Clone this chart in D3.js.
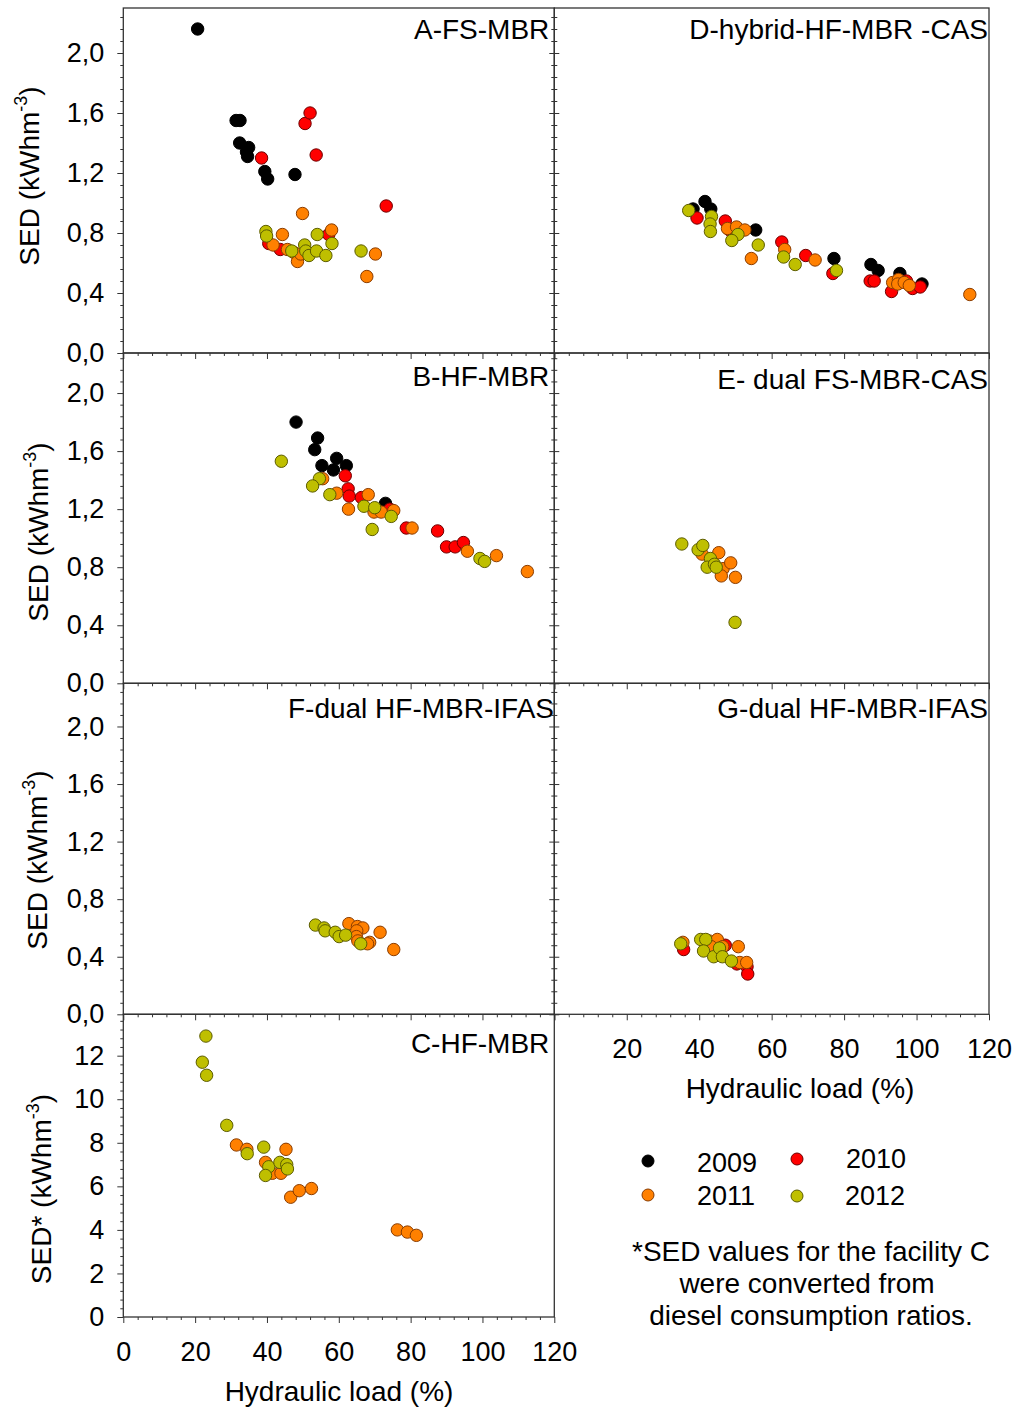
<!DOCTYPE html>
<html><head><meta charset="utf-8">
<script src="https://cdn.jsdelivr.net/npm/d3@7"></script>
<style>
body{margin:0;background:#fff}
svg{display:block}
text{font-family:'Liberation Sans',Arial,sans-serif;fill:#000}
</style>
</head><body>
<svg id="chart" width="1016" height="1409"></svg>
<script>
// ---------------- DATA ----------------
const years = ["2009", "2010", "2011", "2012"];
const xTicks = [0, 20, 40, 60, 80, 100, 120];
const sedTicks = [0, 0.4, 0.8, 1.2, 1.6, 2.0];
const sedStarTicks = [0, 2, 4, 6, 8, 10, 12];

// Panel A-FS-MBR  [hydraulic load %, SED]
const a2009 = [[20.7,2.16],[31.4,1.55],[32.5,1.55],[32.4,1.40],[34.9,1.37],[34.3,1.34],[34.6,1.31],[39.4,1.21],[40.2,1.16],[47.8,1.19]];
const a2010 = [[38.5,1.30],[50.6,1.53],[52.0,1.60],[53.7,1.32],[73.2,0.98],[57.2,0.79],[40.5,0.73],[43.7,0.69]];
const a2011 = [[49.9,0.93],[44.3,0.79],[41.7,0.72],[45.7,0.69],[47.5,0.67],[48.5,0.61],[49.4,0.66],[58.0,0.82],[70.2,0.66],[67.8,0.51]];
const a2012 = [[39.7,0.81],[39.9,0.78],[46.9,0.68],[50.5,0.72],[50.8,0.68],[51.7,0.65],[53.8,0.68],[54.0,0.79],[56.4,0.65],[58.1,0.73],[66.2,0.68]];

// Panel D-hybrid-HF-MBR -CAS
const d2009 = [[38.3,0.96],[41.6,1.01],[43.2,0.96],[55.6,0.82],[77.2,0.63],[87.4,0.59],[89.4,0.55],[95.4,0.53],[101.5,0.46]];
const d2010 = [[39.4,0.90],[47.2,0.88],[48.4,0.82],[62.8,0.74],[69.4,0.65],[76.9,0.53],[87.2,0.48],[88.3,0.48],[93.1,0.41],[97.2,0.48],[98.9,0.43],[101.0,0.44]];
const d2011 = [[47.8,0.83],[50.3,0.84],[52.6,0.82],[54.4,0.63],[63.6,0.69],[72.0,0.62],[93.4,0.47],[95.0,0.49],[94.8,0.46],[96.6,0.47],[98.0,0.45],[114.7,0.39]];
const d2012 = [[37.1,0.95],[43.4,0.91],[43.0,0.86],[43.1,0.81],[50.7,0.79],[49.0,0.75],[56.3,0.72],[63.3,0.64],[66.5,0.59],[77.9,0.55]];

// Panel B-HF-MBR
const b2009 = [[48.1,1.80],[54.1,1.69],[53.3,1.61],[59.4,1.55],[55.3,1.50],[58.5,1.47],[62.1,1.50],[73.0,1.24]];
const b2010 = [[61.8,1.43],[62.6,1.34],[62.9,1.29],[66.3,1.28],[74.2,1.20],[78.8,1.07],[87.5,1.05],[90.0,0.94],[92.4,0.94],[94.7,0.97]];
const b2011 = [[55.5,1.41],[59.4,1.31],[62.7,1.20],[68.2,1.30],[69.8,1.18],[71.8,1.18],[75.3,1.19],[80.4,1.07],[95.8,0.91],[103.9,0.88],[112.5,0.77]];
const b2012 = [[44.0,1.53],[54.6,1.41],[52.7,1.36],[57.5,1.30],[67.0,1.22],[70.0,1.21],[74.6,1.15],[69.3,1.06],[99.3,0.86],[100.6,0.84]];

// Panel E- dual FS-MBR-CAS
const e2011 = [[40.8,0.89],[45.4,0.90],[43.8,0.83],[46.6,0.79],[48.7,0.83],[46.1,0.74],[50.0,0.73]];
const e2012 = [[35.2,0.96],[39.7,0.92],[41.0,0.95],[43.1,0.86],[42.2,0.80],[44.2,0.82],[44.7,0.80],[49.9,0.42]];

// Panel F-dual HF-MBR-IFAS
const f2011 = [[62.8,0.63],[65.2,0.61],[66.7,0.60],[65.0,0.58],[64.9,0.54],[65.3,0.51],[68.6,0.50],[68.0,0.49],[71.5,0.57],[75.3,0.45]];
const f2012 = [[53.5,0.62],[55.9,0.60],[56.2,0.58],[59.0,0.57],[60.1,0.54],[61.9,0.55],[66.1,0.49]];

// Panel G-dual HF-MBR-IFAS
const g2010 = [[35.7,0.45],[47.2,0.48],[50.4,0.35],[53.2,0.33],[53.4,0.28]];
const g2011 = [[35.5,0.50],[42.7,0.51],[45.0,0.52],[43.3,0.47],[46.5,0.47],[50.8,0.47],[51.2,0.36],[53.1,0.36]];
const g2012 = [[34.9,0.49],[40.4,0.52],[41.8,0.52],[41.2,0.44],[44.0,0.40],[45.6,0.46],[46.4,0.40],[48.9,0.37]];

// Panel C-HF-MBR (SED*)
const c2011 = [[31.5,7.9],[34.4,7.7],[45.3,7.7],[39.6,7.1],[41.5,6.6],[43.9,6.6],[46.6,5.5],[49.0,5.8],[52.4,5.9],[76.3,4.0],[79.1,3.9],[81.6,3.75]];
const c2012 = [[23.0,12.9],[22.0,11.7],[23.2,11.1],[28.8,8.8],[34.5,7.5],[39.1,7.8],[40.5,6.9],[39.6,6.5],[43.6,7.1],[45.5,7.0],[45.7,6.8]];

const noteLines = ["*SED values for the facility C", "were converted from", "diesel consumption ratios."];

// ---------------- STYLE / LAYOUT ----------------
const fills = ["#000000", "#ff0000", "#ff8000", "#bfbf00"];
const strokes = ["#000000", "#6e0000", "#8a3c00", "#5c5c00"];
const axisColor = "#333";

const svg = d3.select("#chart");

const xLeft = d3.scaleLinear().domain([0, 120]).range([123.3, 554.3]);
const xRight = d3.scaleLinear().domain([0, 120]).range([554.3, 989]);
const yRowA = d3.scaleLinear().domain([0, 2.3]).range([353, 8]);
const yRowB = d3.scaleLinear().domain([0, 2.276]).range([683.3, 353]);
const yRowF = d3.scaleLinear().domain([0, 2.3]).range([1014.3, 683.3]);
const yRowC = d3.scaleLinear().domain([0, 13.9]).range([1317, 1014.3]);

const panels = [
  {title: "A-FS-MBR", x: xLeft, y: yRowA, side: "L", series: [[a2009,0],[a2010,1],[a2011,2],[a2012,3]], ty: 39},
  {title: "D-hybrid-HF-MBR -CAS", x: xRight, y: yRowA, side: "R", series: [[d2009,0],[d2010,1],[d2011,2],[d2012,3]], ty: 39, tx: 988},
  {title: "B-HF-MBR", x: xLeft, y: yRowB, side: "L", series: [[b2009,0],[b2010,1],[b2011,2],[b2012,3]], ty: 386},
  {title: "E- dual FS-MBR-CAS", x: xRight, y: yRowB, side: "R", series: [[e2011,2],[e2012,3]], ty: 389, tx: 988},
  {title: "F-dual HF-MBR-IFAS", x: xLeft, y: yRowF, side: "L", series: [[f2011,2],[f2012,3]], ty: 718, tx: 554},
  {title: "G-dual HF-MBR-IFAS", x: xRight, y: yRowF, side: "R", series: [[g2010,1],[g2011,2],[g2012,3]], ty: 718, tx: 988, xLabels: true},
  {title: "C-HF-MBR", x: xLeft, y: yRowC, side: "L", series: [[c2011,2],[c2012,3]], ty: 1053, xLabels: true, star: true}
];

const comma = v => d3.format(".1f")(v).replace(".", ",");

function minorList(step, count, skip) {
  return d3.range(0, count + 1).filter(i => i % skip !== 0).map(i => +(i * step).toFixed(3));
}

function styleAxis(g) {
  g.select(".domain").remove();
  g.selectAll(".tick line").attr("stroke", axisColor).attr("stroke-width", 1);
  g.selectAll(".tick text").style("font-size", "27px").attr("fill", "#000");
}

panels.forEach(p => {
  const [x0, x1] = p.x.range();
  const [yb, yt] = p.y.range();
  const g = svg.append("g");

  // points
  p.series.forEach(([data, yi]) => {
    g.append("g").selectAll("circle").data(data).join("circle")
      .attr("cx", d => p.x(d[0])).attr("cy", d => p.y(d[1])).attr("r", 6.2)
      .attr("fill", fills[yi]).attr("stroke", strokes[yi]).attr("stroke-width", 1);
  });

  // frame
  g.append("rect").attr("x", x0).attr("y", yt).attr("width", x1 - x0).attr("height", yb - yt)
    .attr("fill", "none").attr("stroke", axisColor).attr("stroke-width", 1.3);

  // y axis
  const yMajor = p.star ? sedStarTicks : sedTicks;
  const yMinor = p.star ? minorList(0.4, 34, 5) : minorList(0.08, 28, 5).filter(v => v <= p.y.domain()[1]);
  if (p.side === "L") {
    g.append("g").attr("transform", `translate(${x0},0)`)
      .call(d3.axisLeft(p.y).tickValues(yMajor).tickSize(6).tickSizeOuter(0).tickPadding(13)
        .tickFormat(p.star ? d3.format("d") : comma)).call(styleAxis);
    g.append("g").attr("transform", `translate(${x0},0)`)
      .call(d3.axisLeft(p.y).tickValues(yMinor).tickSize(3).tickSizeOuter(0).tickFormat("")).call(styleAxis);
  } else {
    [d3.axisLeft, d3.axisRight].forEach(ax => {
      g.append("g").attr("transform", `translate(${x0},0)`)
        .call(ax(p.y).tickValues(yMajor).tickSize(5).tickSizeOuter(0).tickFormat("")).call(styleAxis);
      g.append("g").attr("transform", `translate(${x0},0)`)
        .call(ax(p.y).tickValues(yMinor).tickSize(3).tickSizeOuter(0).tickFormat("")).call(styleAxis);
    });
  }

  // x axis
  const xMinor = minorList(4, 30, 5);
  const labelVals = p.side === "R" ? xTicks.filter(v => v > 0) : xTicks;
  g.append("g").attr("transform", `translate(0,${yb})`)
    .call(d3.axisBottom(p.x).tickValues(xTicks).tickSize(6).tickSizeOuter(0).tickPadding(19)
      .tickFormat(v => (p.xLabels && labelVals.includes(v)) ? d3.format("d")(v) : "")).call(styleAxis);
  g.append("g").attr("transform", `translate(0,${yb})`)
    .call(d3.axisBottom(p.x).tickValues(xMinor).tickSize(3).tickSizeOuter(0).tickFormat("")).call(styleAxis);

  // title
  g.append("text").attr("x", p.tx || (x1 - 5)).attr("y", p.ty).attr("text-anchor", "end")
    .style("font-size", "28px").text(p.title);
});

// y-axis titles
const yTitles = [
  {x: 39, y: 176, star: false},
  {x: 48, y: 532, star: false},
  {x: 47, y: 860, star: false},
  {x: 51, y: 1189, star: true}
];
yTitles.forEach(t => {
  const txt = svg.append("text").attr("transform", `translate(${t.x},${t.y}) rotate(-90)`)
    .attr("text-anchor", "middle").style("font-size", "28px");
  txt.append("tspan").text(t.star ? "SED* (kWhm" : "SED (kWhm");
  txt.append("tspan").attr("dy", -12).style("font-size", "18px").text("-3");
  txt.append("tspan").attr("dy", 12).text(")");
});

// x-axis titles
svg.append("text").attr("x", 339).attr("y", 1401).attr("text-anchor", "middle").style("font-size", "28px").text("Hydraulic load (%)");
svg.append("text").attr("x", 800).attr("y", 1098).attr("text-anchor", "middle").style("font-size", "28px").text("Hydraulic load (%)");

// legend
const legendItems = [
  {cx: 648, cy: 1161, tx: 697, ty: 1172},
  {cx: 797, cy: 1159, tx: 846, ty: 1168},
  {cx: 648, cy: 1195, tx: 697, ty: 1205},
  {cx: 797, cy: 1196, tx: 845, ty: 1205}
];
const lg = svg.append("g");
years.forEach((yr, i) => {
  const L = legendItems[i];
  lg.append("circle").attr("cx", L.cx).attr("cy", L.cy).attr("r", 6)
    .attr("fill", fills[i]).attr("stroke", strokes[i]).attr("stroke-width", 1);
  lg.append("text").attr("x", L.tx).attr("y", L.ty).style("font-size", "27px").text(yr);
});

// note
const noteY = [1261, 1293, 1325];
const noteX = [811, 807, 811];
noteLines.forEach((s, i) => {
  svg.append("text").attr("x", noteX[i]).attr("y", noteY[i]).attr("text-anchor", "middle")
    .style("font-size", "28px").text(s);
});
</script>
</body></html>
